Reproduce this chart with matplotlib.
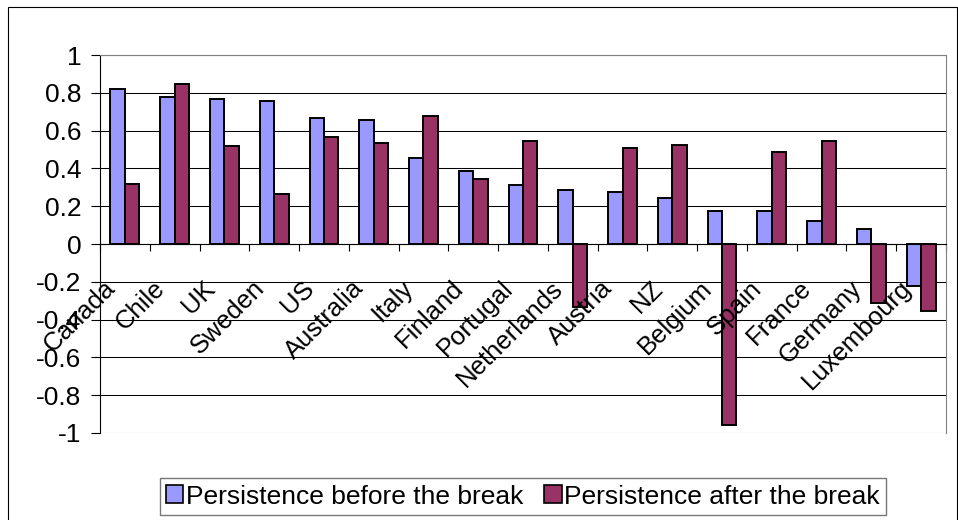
import numpy as np
import matplotlib
matplotlib.use('Agg')
import matplotlib.pyplot as plt
from matplotlib.patches import Rectangle

plt.rcParams['font.family'] = ['Liberation Sans', 'DejaVu Sans']

# Persistence estimates per country, before and after the break
countries = ['Canada', 'Chile', 'UK', 'Sweden', 'US', 'Australia', 'Italy', 'Finland',
             'Portugal', 'Netherlands', 'Austria', 'NZ', 'Belgium', 'Spain', 'France',
             'Germany', 'Luxembourg']
before_break = [0.82, 0.776, 0.765, 0.755, 0.667, 0.654, 0.455, 0.386,
                0.31, 0.287, 0.275, 0.243, 0.176, 0.176, 0.122, 0.078, -0.222]
after_break = [0.32, 0.845, 0.52, 0.265, 0.566, 0.533, 0.677, 0.344,
               0.545, -0.335, 0.51, 0.522, -0.958, 0.488, 0.545, -0.31, -0.356]
y_ticks = [1, 0.8, 0.6, 0.4, 0.2, 0, -0.2, -0.4, -0.6, -0.8, -1]
legend_labels = ['Persistence before the break', 'Persistence after the break']

W, H = 958, 520
fig = plt.figure(figsize=(W / 100, H / 100), dpi=100)
ax = fig.add_axes([100 / W, 1 - 433 / H, 846 / W, 378 / H])

x = np.arange(len(countries))
bw = 0.29
b1 = ax.bar(x - bw / 2, before_break, bw, color='#9999FF', edgecolor='black', linewidth=1.4,
            label=legend_labels[0], zorder=3)
b2 = ax.bar(x + bw / 2, after_break, bw, color='#993366', edgecolor='black', linewidth=1.4,
            label=legend_labels[1], zorder=3)

ax.set_xlim(-0.5, len(countries) - 0.5)
ax.set_ylim(-1, 1)
ax.set_yticks(y_ticks)
ax.set_yticklabels(['%g' % v for v in y_ticks])
ax.yaxis.grid(True, color='black', linewidth=0.75)
ax.set_axisbelow(True)
ax.tick_params(axis='y', direction='out', length=6.5, width=0.8, pad=7, labelsize=19)

# category axis sits on zero with ticks between the groups
ax.spines['bottom'].set_position(('data', 0))
ax.spines['bottom'].set_zorder(4)
ax.set_xticks(np.arange(-0.5, len(countries)))
ax.set_xticklabels([])
ax.tick_params(axis='x', direction='out', length=5, width=0.8)
for side in ['top', 'right']:
    ax.spines[side].set_color('#808080')
for side in ['left', 'bottom']:
    ax.spines[side].set_color('black')
    ax.spines[side].set_linewidth(0.8)

for i, name in enumerate(countries):
    ax.annotate(name, xy=(i, 0), xycoords='data', xytext=(-22, -32), textcoords='offset pixels',
                rotation=45, rotation_mode='anchor', ha='right', va='top', fontsize=18.5,
                zorder=5)

leg = fig.legend(handles=[b1, b2], loc='center', bbox_to_anchor=(523 / W, 1 - 496.5 / H),
                 ncol=2, fontsize=19, frameon=True, fancybox=False, borderpad=0.25,
                 handlelength=0.65, handleheight=0.65, handletextpad=0.1, columnspacing=0.8,
                 borderaxespad=0)
leg.get_frame().set_edgecolor('#555555')
leg.get_frame().set_linewidth(1)
for h in leg.legend_handles:
    h.set_linewidth(1.2)

# outer chart border
fig.patches.append(Rectangle((7.5 / W, -0.1), 949 / W, 1.1 - 7.5 / H, transform=fig.transFigure,
                             fill=False, edgecolor='black', linewidth=0.8))

fig.savefig('out.png', dpi=100)
